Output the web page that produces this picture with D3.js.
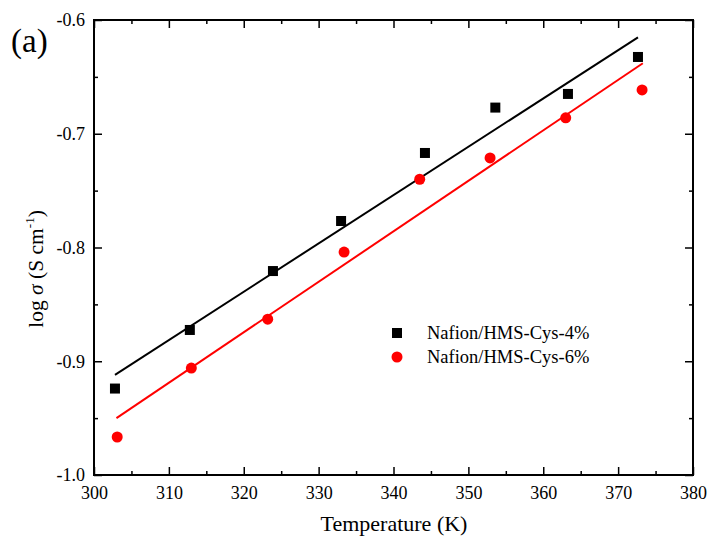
<!DOCTYPE html>
<html>
<head>
<meta charset="utf-8">
<script src="https://cdn.jsdelivr.net/npm/d3@7"></script>
<style>
  body { margin: 0; background: #fff; }
  svg text { font-family: "Liberation Serif", "Times New Roman", serif !important; fill: #000; }
</style>
</head>
<body>
<svg id="chart" width="709" height="543"></svg>
<script>
// measured points
var tempA = [302.8, 312.8, 323.9, 333.0, 344.2, 353.6, 363.3, 372.65];
var logA  = [-0.924, -0.8725, -0.8207, -0.7767, -0.7169, -0.677, -0.665, -0.6325];
var tempB = [303.1, 313.0, 323.2, 333.4, 343.5, 352.9, 363.0, 373.2];
var logB  = [-0.9666, -0.906, -0.863, -0.804, -0.740, -0.7213, -0.686, -0.6615];
// linear fits (end points)
var fitA = [[302.8, -0.912], [372.65, -0.6152]];
var fitB = [[303.0, -0.950], [373.3, -0.638]];
var seriesNames = ["Nafion/HMS-Cys-4%", "Nafion/HMS-Cys-6%"];
var xTicks = [300, 310, 320, 330, 340, 350, 360, 370, 380];
var yTicks = [-1.0, -0.9, -0.8, -0.7, -0.6];
var xMinor = [305, 315, 325, 335, 345, 355, 365, 375];
var yMinor = [-0.95, -0.85, -0.75, -0.65];

var svg = d3.select('#chart');
var pL = 94, pR = 693, pT = 20, pB = 475;
var x = d3.scaleLinear().domain([300, 380]).range([pL, pR]);
var y = d3.scaleLinear().domain([-1.0, -0.6]).range([pB, pT]);

function clean(g){
  g.select('.domain').remove();
  g.selectAll('line').attr('stroke', '#000').attr('stroke-width', 1.5);
  g.attr('font-family', null).attr('font-size', null);
  g.selectAll('text').style('font-size', '18px');
}

// bottom
svg.append('g').attr('transform', 'translate(0,' + pB + ')')
  .call(d3.axisBottom(x).tickValues(xTicks).tickSize(-8).tickPadding(11).tickFormat(d3.format('d')))
  .call(clean);
svg.append('g').attr('transform', 'translate(0,' + pB + ')')
  .call(d3.axisBottom(x).tickValues(xMinor).tickSize(-4).tickFormat(''))
  .call(clean);
// top
svg.append('g').attr('transform', 'translate(0,' + pT + ')')
  .call(d3.axisTop(x).tickValues(xTicks).tickSize(-8).tickFormat(''))
  .call(clean);
svg.append('g').attr('transform', 'translate(0,' + pT + ')')
  .call(d3.axisTop(x).tickValues(xMinor).tickSize(-4).tickFormat(''))
  .call(clean);
// left
svg.append('g').attr('transform', 'translate(' + pL + ',0)')
  .call(d3.axisLeft(y).tickValues(yTicks).tickSize(-8).tickPadding(9)
    .tickFormat(function(d){ return d3.format('.1f')(d).replace('−', '-'); }))
  .call(clean);
svg.append('g').attr('transform', 'translate(' + pL + ',0)')
  .call(d3.axisLeft(y).tickValues(yMinor).tickSize(-4).tickFormat(''))
  .call(clean);
// right
svg.append('g').attr('transform', 'translate(' + pR + ',0)')
  .call(d3.axisRight(y).tickValues(yTicks).tickSize(-8).tickFormat(''))
  .call(clean);
svg.append('g').attr('transform', 'translate(' + pR + ',0)')
  .call(d3.axisRight(y).tickValues(yMinor).tickSize(-4).tickFormat(''))
  .call(clean);

// frame
svg.append('rect').attr('x', pL).attr('y', pT).attr('width', pR - pL).attr('height', pB - pT)
  .attr('fill', 'none').attr('stroke', '#000').attr('stroke-width', 2);

// fit lines
var line = d3.line().x(function(d){ return x(d[0]); }).y(function(d){ return y(d[1]); });
svg.append('path').datum(fitA).attr('d', line).attr('stroke', '#000').attr('stroke-width', 2).attr('fill', 'none');
svg.append('path').datum(fitB).attr('d', line).attr('stroke', '#ff0000').attr('stroke-width', 2).attr('fill', 'none');

// points
var ptsA = tempA.map(function(t, i){ return [t, logA[i]]; });
var ptsB = tempB.map(function(t, i){ return [t, logB[i]]; });
svg.append('g').selectAll('rect').data(ptsA).enter().append('rect')
  .attr('x', function(d){ return x(d[0]) - 5; })
  .attr('y', function(d){ return y(d[1]) - 5; })
  .attr('width', 10).attr('height', 10).attr('fill', '#000');
svg.append('g').selectAll('circle').data(ptsB).enter().append('circle')
  .attr('cx', function(d){ return x(d[0]); })
  .attr('cy', function(d){ return y(d[1]); })
  .attr('r', 5.5).attr('fill', '#ff0000');

// legend
var lg = svg.append('g');
lg.append('rect').attr('x', 392).attr('y', 328).attr('width', 10).attr('height', 10).attr('fill', '#000');
lg.append('text').attr('x', 427).attr('y', 339).style('font-size', '18.5px').text(seriesNames[0]);
lg.append('circle').attr('cx', 397).attr('cy', 357).attr('r', 5.5).attr('fill', '#ff0000');
lg.append('text').attr('x', 427).attr('y', 363).style('font-size', '18.5px').text(seriesNames[1]);

// titles
svg.append('text').attr('x', 394).attr('y', 531).attr('text-anchor', 'middle')
  .style('font-size', '22px').text('Temperature (K)');
var yl = svg.append('text').attr('transform', 'translate(43,269) rotate(-90)').attr('text-anchor', 'middle').style('font-size', '21.5px');
yl.append('tspan').text('log ');
yl.append('tspan').attr('font-style', 'italic').text('σ');
yl.append('tspan').text(' (S cm');
yl.append('tspan').style('font-size', '13px').attr('dy', -9).text('-1');
yl.append('tspan').attr('dy', 9).text(')');

svg.append('text').attr('x', 11).attr('y', 52).style('font-size', '33px').text('(a)');
</script>
</body>
</html>
